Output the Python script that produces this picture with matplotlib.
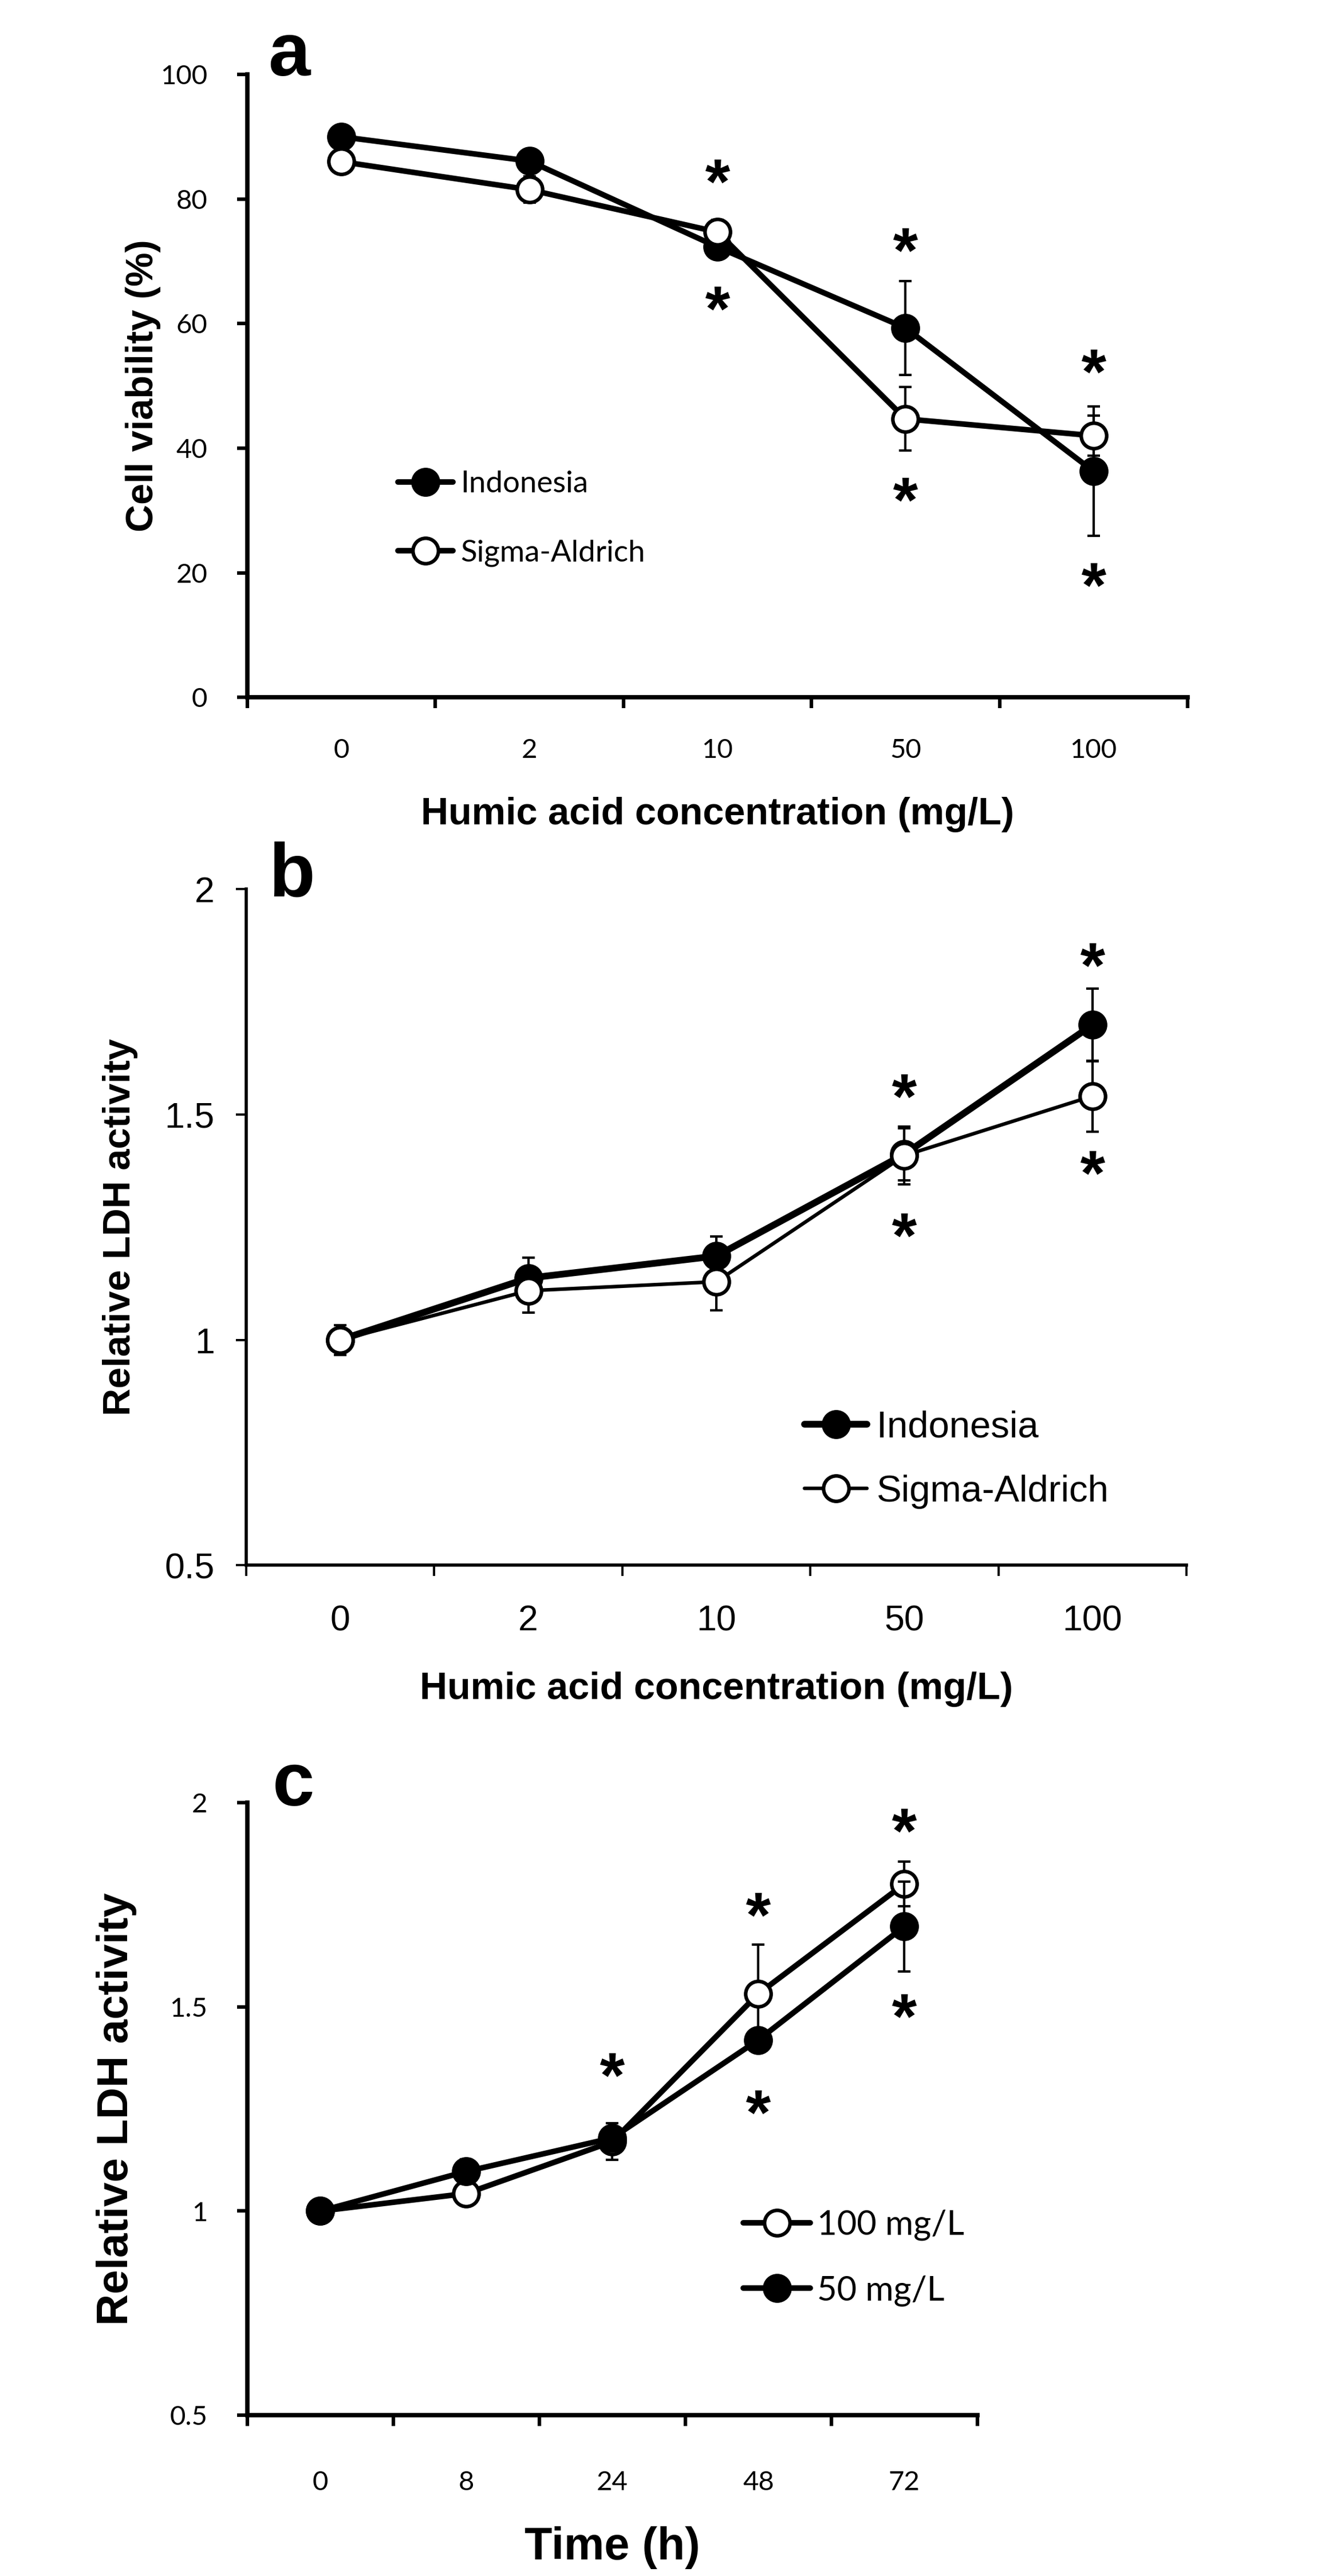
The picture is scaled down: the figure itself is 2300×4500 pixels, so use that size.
import numpy as np
import matplotlib
matplotlib.use("Agg")
import matplotlib.pyplot as plt
from matplotlib.path import Path
from matplotlib.textpath import TextPath
from matplotlib.font_manager import FontProperties
from matplotlib.ticker import FixedLocator, FixedFormatter, NullFormatter

# ---- data ----
conc_labels = ["0", "2", "10", "50", "100"]
time_labels = ["0", "8", "24", "48", "72"]

# a: cell viability (%)
via_indonesia = [90.0, 86.1, 72.3, 59.3, 36.3]
via_indonesia_err = [1.8, 1.0, 1.8, 7.5, 10.4]
via_sigma = [86.0, 81.5, 74.7, 44.7, 42.0]
via_sigma_err = [1.0, 2.1, 2.0, 5.1, 3.2]
via_star_x = [2, 2, 3, 3, 4, 4]
via_star_y = [84.5, 64.1, 73.4, 33.4, 54.0, 19.7]
via_yticks = [0, 20, 40, 60, 80, 100]
via_yticklabels = ["0", "20", "40", "60", "80", "100"]

# b: relative LDH activity vs concentration
ldh_indonesia = [1.0, 1.137, 1.186, 1.412, 1.699]
ldh_indonesia_err = [0.02, 0.046, 0.043, 0.058, 0.081]
ldh_sigma = [1.0, 1.109, 1.129, 1.409, 1.541]
ldh_sigma_err = [0.033, 0.049, 0.063, 0.064, 0.079]
ldh_star_x = [3, 3, 4, 4]
ldh_star_y = [1.564, 1.255, 1.854, 1.393]

# c: relative LDH activity vs time
time_100 = [1.0, 1.043, 1.170, 1.532, 1.801]
time_100_err = [0.0, 0.02, 0.045, 0.121, 0.055]
time_50 = [1.0, 1.097, 1.179, 1.419, 1.697]
time_50_err = [0.0, 0.03, 0.02, 0.02, 0.11]
time_star_x = [2, 3, 3, 4, 4]
time_star_y = [1.358, 1.751, 1.267, 1.956, 1.502]

ldh_yticks = [0.5, 1.0, 1.5, 2.0]
ldh_yticklabels = ["0.5", "1", "1.5", "2"]

ARIAL = "Liberation Sans"
CALIBRI = "Lato"

# asterisk marker built from the bold glyph, centred on its own box
tp = TextPath((0, 0), "*", size=10, prop=FontProperties(family=ARIAL, weight="bold"))
ext = tp.get_extents()
verts = tp.vertices.copy()
verts[:, 0] -= (ext.x0 + ext.x1) / 2
verts[:, 1] -= (ext.y0 + ext.y1) / 2
codes = tp.codes
if codes is not None:
    verts[codes == Path.CLOSEPOLY] = 0
star_path = Path(verts, codes)


def style_axes(ax, xlabels, yticks, ylabels, tfont, tsize, xpad, ypad,
               spine_w, tick_w):
    x = np.arange(len(xlabels))
    ax.set_xlim(-0.5, len(xlabels) - 0.5)
    ax.xaxis.set_major_locator(FixedLocator(np.arange(-0.5, len(xlabels), 1.0)))
    ax.xaxis.set_major_formatter(NullFormatter())
    ax.xaxis.set_minor_locator(FixedLocator(x))
    ax.xaxis.set_minor_formatter(FixedFormatter(xlabels))
    ax.tick_params(axis="x", which="major", length=14, width=tick_w, direction="out")
    ax.tick_params(axis="x", which="minor", length=0, pad=xpad)
    ax.set_yticks(yticks)
    ax.set_yticklabels(ylabels)
    ax.set_ylim(yticks[0], yticks[-1])
    ax.tick_params(axis="y", length=13, width=tick_w, direction="out", pad=ypad)
    for lab in ax.get_xticklabels(minor=True) + ax.get_yticklabels():
        lab.set_fontfamily(tfont)
        lab.set_fontsize(tsize)
    for s in ("top", "right"):
        ax.spines[s].set_visible(False)
    for s in ("left", "bottom"):
        ax.spines[s].set_linewidth(spine_w)
        ax.spines[s].set_capstyle("projecting")


def series(ax, y, err, filled, lw, label, z):
    x = np.arange(len(y))
    ax.errorbar(x, y, yerr=err, fmt="none", ecolor="black", elinewidth=3,
                capsize=8, capthick=3, zorder=z)
    ax.plot(x, y, color="black", lw=lw, marker="o", ms=32,
            mfc="black" if filled else "white", mec="black", mew=4.5,
            solid_capstyle="round", solid_joinstyle="round",
            label=label, zorder=z + 0.5)


def stars(ax, sx, sy):
    ax.plot(sx, sy, ls="none", marker=star_path, ms=31, color="black",
            mew=0, zorder=10)


fig = plt.figure(figsize=(23, 45), dpi=100)

# ---------------- a ----------------
ax1 = fig.add_axes([0.1878, 0.7293, 0.7139, 0.2418])
series(ax1, via_indonesia, via_indonesia_err, True, 7, "Indonesia", 3)
series(ax1, via_sigma, via_sigma_err, False, 7, "Sigma-Aldrich", 4)
stars(ax1, via_star_x, via_star_y)
style_axes(ax1, conc_labels, via_yticks, via_yticklabels, CALIBRI, 34, 52, 37,
           5.5, 4.5)
ax1.text(-0.111, 0.5, "Cell viability (%)", transform=ax1.transAxes,
         rotation=90, ha="center", va="center", fontsize=48,
         fontweight="bold", family=ARIAL)
ax1.text(0.5, -0.204, "Humic acid concentration (mg/L)", transform=ax1.transAxes,
         ha="center", va="baseline", fontsize=48, fontweight="bold", family=ARIAL)
ax1.text(0.022, 0.998, "a", transform=ax1.transAxes, ha="left", va="baseline",
         fontsize=95, fontweight="bold", family=ARIAL)
ax1.legend(loc="center left", bbox_to_anchor=(0.144, 0.287), frameon=False,
           borderpad=0, handlelength=1.82, handletextpad=0.25, labelspacing=1.38,
           prop=FontProperties(family=CALIBRI, size=38))

# ---------------- b ----------------
ax2 = fig.add_axes([0.187, 0.3924, 0.7139, 0.2624])
series(ax2, ldh_indonesia, ldh_indonesia_err, True, 8.5, "Indonesia", 3)
series(ax2, ldh_sigma, ldh_sigma_err, False, 4.5, "Sigma-Aldrich", 4)
stars(ax2, ldh_star_x, ldh_star_y)
style_axes(ax2, conc_labels, ldh_yticks, ldh_yticklabels, ARIAL, 45, 49, 27,
           4.0, 2.8)
ax2.text(-0.134, 0.5, "Relative LDH activity", transform=ax2.transAxes,
         rotation=90, ha="center", va="center", fontsize=48,
         fontweight="bold", family=ARIAL)
ax2.text(0.5, -0.198, "Humic acid concentration (mg/L)", transform=ax2.transAxes,
         ha="center", va="baseline", fontsize=48, fontweight="bold", family=ARIAL)
ax2.text(0.0237, 0.99, "b", transform=ax2.transAxes, ha="left", va="baseline",
         fontsize=95, fontweight="bold", family=ARIAL)
ax2.legend(loc="center left", bbox_to_anchor=(0.574, 0.156), frameon=False,
           borderpad=0, handlelength=1.67, handletextpad=0.25, labelspacing=0.8,
           prop=FontProperties(family=ARIAL, size=47))

# ---------------- c ----------------
ax3 = fig.add_axes([0.1878, 0.0624, 0.5543, 0.2378])
series(ax3, time_100, time_100_err, False, 7, "100 mg/L", 3)
series(ax3, time_50, time_50_err, True, 7, "50 mg/L", 4)
stars(ax3, time_star_x, time_star_y)
style_axes(ax3, time_labels, ldh_yticks, ldh_yticklabels, CALIBRI, 34, 70, 37,
           5.5, 4.5)
ax3.text(-0.179, 0.5, "Relative LDH activity", transform=ax3.transAxes,
         rotation=90, ha="center", va="center", fontsize=55,
         fontweight="bold", family=ARIAL)
ax3.text(0.5, -0.216, "Time (h)", transform=ax3.transAxes,
         ha="center", va="center", fontsize=57, fontweight="bold", family=ARIAL)
ax3.text(0.0345, 0.995, "c", transform=ax3.transAxes, ha="left", va="baseline",
         fontsize=95, fontweight="bold", family=ARIAL)
ax3.legend(loc="center left", bbox_to_anchor=(0.656, 0.257), frameon=False,
           borderpad=0, handlelength=1.96, handletextpad=0.2, labelspacing=1.0,
           prop=FontProperties(family=CALIBRI, size=43))

fig.savefig("out.png", dpi=100)
